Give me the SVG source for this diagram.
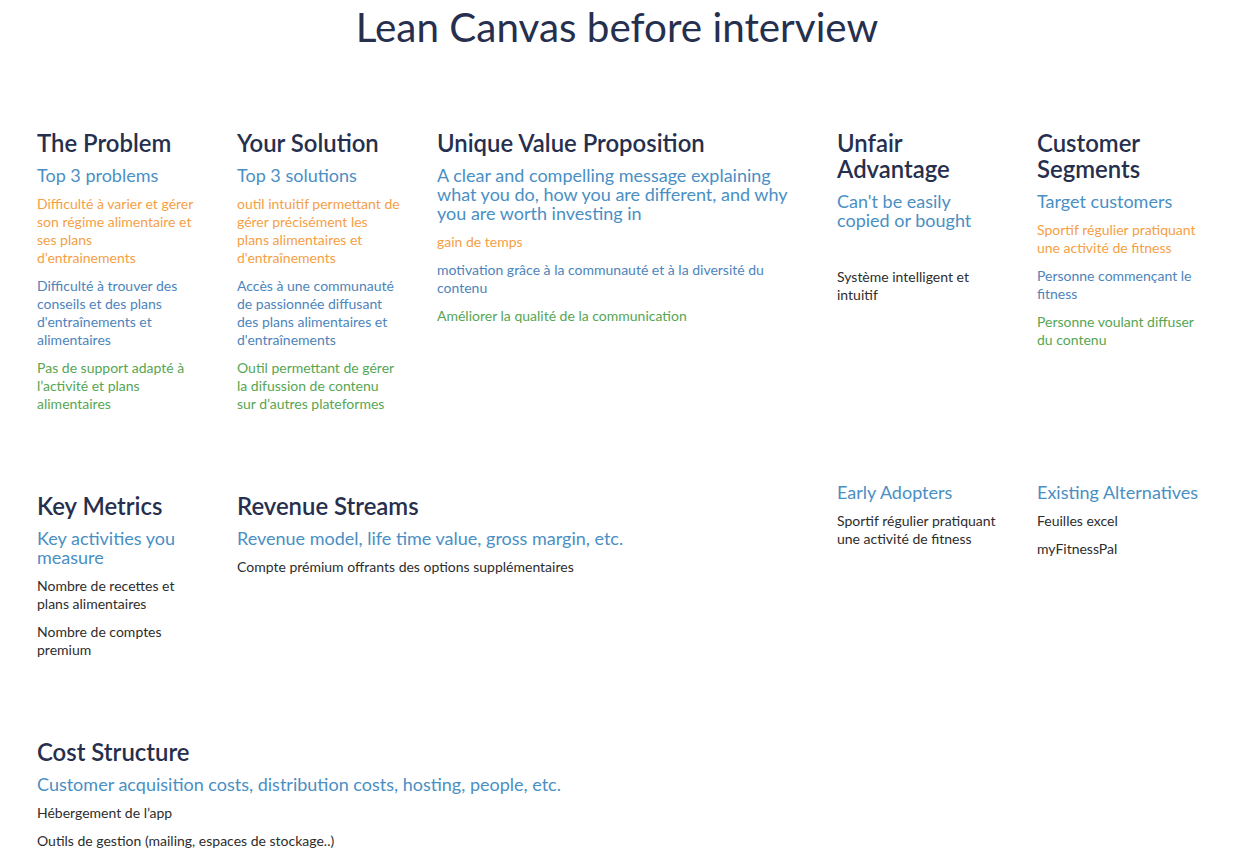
<svg xmlns="http://www.w3.org/2000/svg" width="1246" height="857" viewBox="0 0 1246 857">
<style>
text{font-family:Lato,"Open Sans","Liberation Sans",sans-serif}
.t{font-size:40.4px;fill:#262f4d;text-anchor:middle}
.h{font-size:23.9px;fill:#262f4d;font-weight:600}
.s{font-size:18px;fill:#4a8fc4}
.b{font-size:14px}
.o{fill:#f5a046}
.u{fill:#4d84bb}
.g{fill:#56a653}
.k{fill:#2d2d2d}
</style>
<rect width="1246" height="857" fill="#ffffff"/>
<text class="t" x="617" y="42">Lean Canvas before interview</text>
<g id="problem">
<text class="h" x="37" y="151.5">The Problem</text>
<text class="s" x="37" y="182">Top 3 problems</text>
<text class="b o" x="37" y="208.5">Difficulté à varier et gérer</text>
<text class="b o" x="37" y="226.5">son régime alimentaire et</text>
<text class="b o" x="37" y="244.5">ses plans</text>
<text class="b o" x="37" y="262.5">d’entrainements</text>
<text class="b u" x="37" y="290.5">Difficulté à trouver des</text>
<text class="b u" x="37" y="308.5">conseils et des plans</text>
<text class="b u" x="37" y="326.5">d'entraînements et</text>
<text class="b u" x="37" y="344.5">alimentaires</text>
<text class="b g" x="37" y="372.5">Pas de support adapté à</text>
<text class="b g" x="37" y="390.5">l’activité et plans</text>
<text class="b g" x="37" y="408.5">alimentaires</text>
</g>
<g id="solution">
<text class="h" x="237" y="151.5">Your Solution</text>
<text class="s" x="237" y="182">Top 3 solutions</text>
<text class="b o" x="237" y="208.5">outil intuitif permettant de</text>
<text class="b o" x="237" y="226.5">gérer précisément les</text>
<text class="b o" x="237" y="244.5">plans alimentaires et</text>
<text class="b o" x="237" y="262.5">d'entraînements</text>
<text class="b u" x="237" y="290.5">Accès à une communauté</text>
<text class="b u" x="237" y="308.5">de passionnée diffusant</text>
<text class="b u" x="237" y="326.5">des plans alimentaires et</text>
<text class="b u" x="237" y="344.5">d'entraînements</text>
<text class="b g" x="237" y="372.5">Outil permettant de gérer</text>
<text class="b g" x="237" y="390.5">la difussion de contenu</text>
<text class="b g" x="237" y="408.5">sur d’autres plateformes</text>
</g>
<g id="uvp">
<text class="h" x="437" y="151.5">Unique Value Proposition</text>
<text class="s" x="437" y="182">A clear and compelling message explaining</text>
<text class="s" x="437" y="201">what you do, how you are different, and why</text>
<text class="s" x="437" y="220">you are worth investing in</text>
<text class="b o" x="437" y="246.5">gain de temps</text>
<text class="b u" x="437" y="274.5">motivation grâce à la communauté et à la diversité du</text>
<text class="b u" x="437" y="292.5">contenu</text>
<text class="b g" x="437" y="320.5">Améliorer la qualité de la communication</text>
</g>
<g id="unfair">
<text class="h" x="837" y="151.5">Unfair</text>
<text class="h" x="837" y="177.5">Advantage</text>
<text class="s" x="837" y="208">Can't be easily</text>
<text class="s" x="837" y="227">copied or bought</text>
<text class="b k" x="837" y="281.5">Système intelligent et</text>
<text class="b k" x="837" y="299.5">intuitif</text>
</g>
<g id="segments">
<text class="h" x="1037" y="151.5">Customer</text>
<text class="h" x="1037" y="177.5">Segments</text>
<text class="s" x="1037" y="208">Target customers</text>
<text class="b o" x="1037" y="234.5">Sportif régulier pratiquant</text>
<text class="b o" x="1037" y="252.5">une activité de fitness</text>
<text class="b u" x="1037" y="280.5">Personne commençant le</text>
<text class="b u" x="1037" y="298.5">fitness</text>
<text class="b g" x="1037" y="326.5">Personne voulant diffuser</text>
<text class="b g" x="1037" y="344.5">du contenu</text>
</g>
<g id="metrics">
<text class="h" x="37" y="514.5">Key Metrics</text>
<text class="s" x="37" y="545">Key activities you</text>
<text class="s" x="37" y="564">measure</text>
<text class="b k" x="37" y="590.5">Nombre de recettes et</text>
<text class="b k" x="37" y="608.5">plans alimentaires</text>
<text class="b k" x="37" y="636.5">Nombre de comptes</text>
<text class="b k" x="37" y="654.5">premium</text>
</g>
<g id="revenue">
<text class="h" x="237" y="514.5">Revenue Streams</text>
<text class="s" x="237" y="545">Revenue model, life time value, gross margin, etc.</text>
<text class="b k" x="237" y="571.5">Compte prémium offrants des options supplémentaires</text>
</g>
<g id="early">
<text class="s" x="837" y="499">Early Adopters</text>
<text class="b k" x="837" y="525.5">Sportif régulier pratiquant</text>
<text class="b k" x="837" y="543.5">une activité de fitness</text>
</g>
<g id="alternatives">
<text class="s" x="1037" y="499">Existing Alternatives</text>
<text class="b k" x="1037" y="525.5">Feuilles excel</text>
<text class="b k" x="1037" y="553.5">myFitnessPal</text>
</g>
<g id="cost">
<text class="h" x="37" y="760.5">Cost Structure</text>
<text class="s" x="37" y="791">Customer acquisition costs, distribution costs, hosting, people, etc.</text>
<text class="b k" x="37" y="817.5">Hébergement de l’app</text>
<text class="b k" x="37" y="845.5">Outils de gestion (mailing, espaces de stockage..)</text>
</g>
</svg>
